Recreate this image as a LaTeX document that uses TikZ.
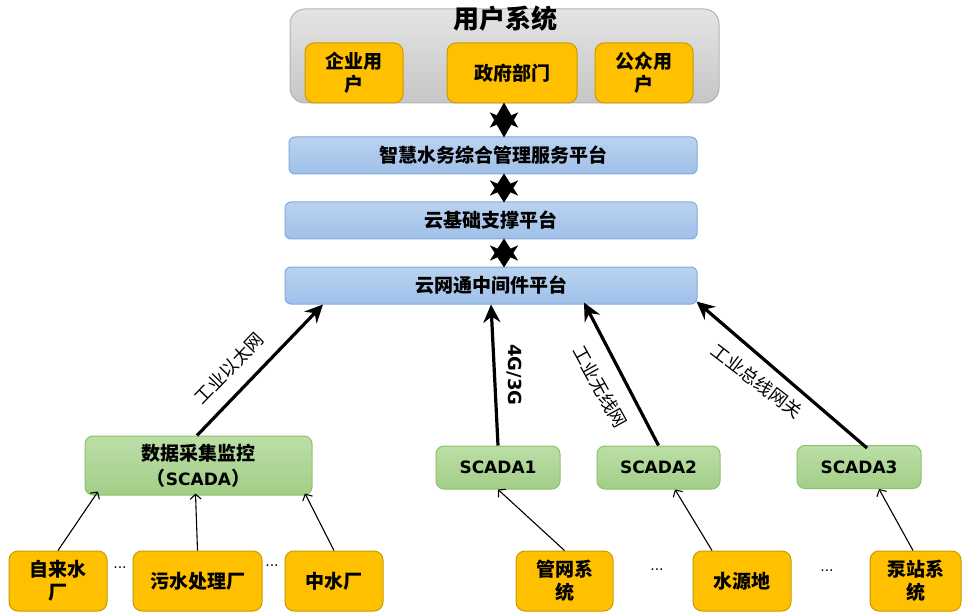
\documentclass[tikz,border=0pt]{standalone}
\usepackage{fontspec}
\setmainfont{DejaVu Sans}
\newfontfamily\cjk{Noto Sans CJK SC}
\usetikzlibrary{arrows.meta,calc}
\definecolor{orgfill}{HTML}{FFC000}
\definecolor{orgdraw}{HTML}{C99A00}
\definecolor{bluetop}{HTML}{BAD2EF}
\definecolor{bluebot}{HTML}{A0C0E9}
\definecolor{bluedraw}{HTML}{7FA9DF}
\definecolor{greentop}{HTML}{BCDEA7}
\definecolor{greenbot}{HTML}{A2CE87}
\definecolor{greendraw}{HTML}{8CC26A}
\definecolor{graytop}{HTML}{E4E4E4}
\definecolor{graybot}{HTML}{C6C6C6}
\definecolor{graydraw}{HTML}{B3B3B3}
\tikzset{
  orgbox/.style={draw=orgdraw, line width=1pt, fill=orgfill, rounded corners=9pt,
    minimum height=60pt, inner sep=2pt, align=center,
    font=\cjk\bfseries\fontsize{19}{23}\selectfont},
  bluebar/.style={draw=bluedraw, line width=1pt, top color=bluetop, bottom color=bluebot,
    rounded corners=6pt, minimum height=37pt, inner sep=0pt,
    font=\cjk\bfseries\fontsize{19}{22}\selectfont},
  greenbox/.style={draw=greendraw, line width=1pt, top color=greentop, bottom color=greenbot,
    rounded corners=8pt, inner sep=0pt, align=center},
  scadatxt/.style={font=\bfseries\fontsize{17}{19}\selectfont},
  dotsnode/.style={font=\fontsize{14}{16}\selectfont, inner sep=0pt},
  dbl/.style={line width=3pt, {Stealth[length=22pt,width=28pt,inset=6pt]}-{Stealth[length=22pt,width=28pt,inset=6pt]}},
  dbllong/.style={line width=3pt, {Stealth[length=25pt,width=28pt,inset=6pt]}-{Stealth[length=25pt,width=28pt,inset=6pt]}},
  thick arr/.style={line width=3.2pt, -{Stealth[length=18pt,width=17pt,inset=6pt]}},
  thin arr/.style={line width=1.1pt, -{Straight Barb[length=5pt,width=11pt]}},
  lbl/.style={font=\cjk\fontsize{18}{20}\selectfont, inner sep=0pt},
}
\begin{document}
\begin{tikzpicture}[x=1pt,y=-1pt]
\useasboundingbox (0,0) rectangle (963,612);
% user system
\node[draw=graydraw, line width=1pt, top color=graytop, bottom color=graybot,
  rounded corners=15pt, minimum width=429pt, minimum height=94pt, inner sep=0pt]
  (usr) at (504.5,56) {};
\node[font=\cjk\bfseries\fontsize{26}{28}\selectfont, inner sep=0pt] (usrt) at (505,19) {用户系统};
\node[orgbox, minimum width=98pt] (qy) at (354,73) {企业用\\户};
\node[orgbox, minimum width=130pt] (zf) at (512,73) {政府部门};
\node[orgbox, minimum width=98pt] (gz) at (644,73) {公众用\\户};
% platforms
\node[bluebar, minimum width=408pt] (zh) at (493,155.5) {智慧水务综合管理服务平台};
\node[bluebar, minimum width=412pt] (yjc) at (491,220.5) {云基础支撑平台};
\node[bluebar, minimum width=412pt] (ywt) at (491,285.5) {云网通中间件平台};
% double arrows
\draw[dbllong] ([yshift=1pt]usr.south -| 504,0) -- ([yshift=-1pt]zh.north -| 504,0);
\draw[dbl] ([yshift=1pt]zh.south -| 504,0) -- ([yshift=-1pt]yjc.north -| 504,0);
\draw[dbl] ([yshift=1pt]yjc.south -| 504,0) -- ([yshift=-1pt]ywt.north -| 504,0);
% scada
\node[greenbox, minimum width=227pt, minimum height=59pt,
  font=\cjk\bfseries\fontsize{19}{25}\selectfont] (sc0) at (198.5,465.5)
  {数据采集监控\\（{\fontspec{DejaVu Sans}\bfseries\fontsize{17}{20}\selectfont SCADA}）};
\node[greenbox, scadatxt, minimum width=124pt, minimum height=43pt] (sc1) at (498,467.5) {SCADA1};
\node[greenbox, scadatxt, minimum width=123pt, minimum height=43pt] (sc2) at (658.5,467.5) {SCADA2};
\node[greenbox, scadatxt, minimum width=124pt, minimum height=43pt] (sc3) at (859,467) {SCADA3};
% bottom sources
\node[orgbox, minimum width=98pt] (zls) at (58,581) {自来水\\厂};
\node[orgbox, minimum width=129pt] (wsc) at (197.5,581) {污水处理厂};
\node[orgbox, minimum width=98pt] (zsc) at (334,581) {中水厂};
\node[orgbox, minimum width=97pt] (gw) at (564.5,581) {管网系\\统};
\node[orgbox, minimum width=98pt] (sy) at (742,581) {水源地};
\node[orgbox, minimum width=91pt] (bz) at (915.5,581) {泵站系\\统};
\node[dotsnode] (d1) at (120,568) {...};
\node[dotsnode] (d2) at (272,566) {...};
\node[dotsnode] (d3) at (657,570) {...};
\node[dotsnode] (d4) at (827,571) {...};
% thin arrows
\draw[thin arr] (zls.north) -- ([xshift=-100.5pt,yshift=4pt]sc0.south);
\draw[thin arr] (wsc.north) -- ([xshift=-3pt,yshift=2pt]sc0.south);
\draw[thin arr] (zsc.north) -- ([xshift=106.5pt,yshift=2pt]sc0.south);
\draw[thin arr] (gw.north) -- (sc1.south);
\draw[thin arr] ([xshift=-30pt]sy.north) -- ([xshift=16.5pt]sc2.south);
\draw[thin arr] ([xshift=-2.5pt]bz.north) -- ([xshift=20pt]sc3.south);
% thick arrows
\draw[thick arr] ([xshift=-1.5pt]sc0.north) -- ([xshift=-168pt]ywt.south);
\draw[thick arr] (sc1.north) -- (ywt.south);
\draw[thick arr] (sc2.north) -- ([xshift=93pt,yshift=2pt]ywt.south);
\draw[thick arr] ([xshift=8pt,yshift=-3pt]sc3.north) -- ([xshift=-1pt,yshift=3pt]ywt.south east);
% labels
\node[lbl, rotate=46] (l0) at (229,368) {工业以太网};
\node[font=\bfseries\fontsize{18}{20}\selectfont, inner sep=0pt, rotate=-90] (l1) at (514,375) {4G/3G};
\node[lbl, rotate=-61] (l2) at (600,387) {工业无线网};
\node[lbl, rotate=-37.5] (l3) at (757,381) {工业总线网关};
\end{tikzpicture}
\end{document}
